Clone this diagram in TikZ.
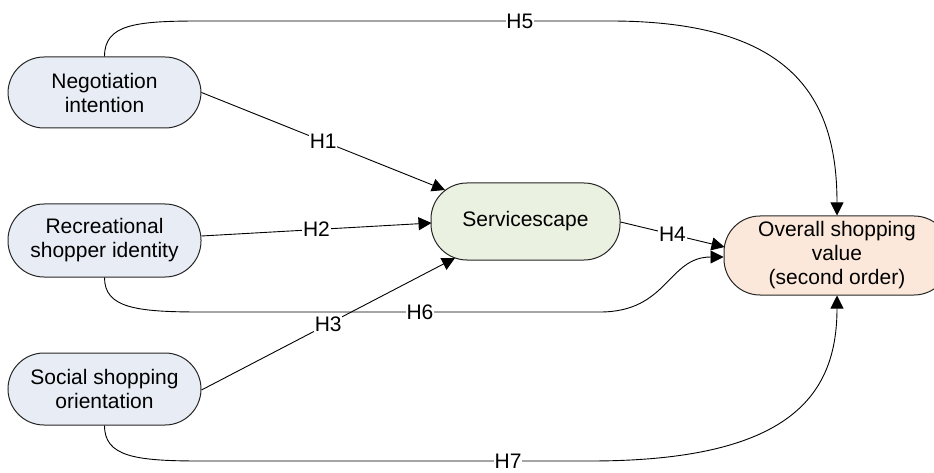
\documentclass[tikz,border=0pt]{standalone}
\usepackage{fontspec}
\setmainfont{Liberation Sans}
\usetikzlibrary{arrows.meta,calc}
\definecolor{blueF}{HTML}{E8ECF4}
\definecolor{greenF}{HTML}{EAF1E0}
\definecolor{orangeF}{HTML}{FCE8DA}
\begin{document}
\begin{tikzpicture}[x=1pt,y=-1pt,
  box/.style={draw=black!85, line width=1pt, rounded corners=36pt, align=center,
    font=\fontsize{21}{24}\selectfont, inner sep=0pt},
  conn/.style={draw=black, line width=0.9pt, -{Triangle[length=13pt,width=13pt]}},
  lbl/.style={fill=white, inner sep=0.8pt, font=\fontsize{21}{24}\selectfont}]
\useasboundingbox (0,0) rectangle (934,473);

\node[box, fill=blueF, minimum width=193pt, minimum height=71pt] (neg) at (104.5,92.5) {Negotiation\\intention};
\node[box, fill=blueF, minimum width=193pt, minimum height=73pt] (rec) at (104.5,240.5) {Recreational\\shopper identity};
\node[box, fill=blueF, minimum width=193pt, minimum height=72pt] (soc) at (104.5,389) {Social shopping\\orientation};
\node[box, fill=greenF, minimum width=189pt, minimum height=77pt] (svc) at (525.5,221.5) {Servicescape};
\node[box, fill=orangeF, minimum width=226pt, minimum height=79pt] (ovr) at (837,255.5) {Overall shopping\\value\\(second order)};

% end points on the rounded borders
\coordinate (h1e) at ($(svc.center)+(-80.5,-31.5)$);
\coordinate (h2s) at ($(rec.east)+(0,-4.5)$);
\coordinate (h2e) at ($(svc.west)+(1,1.5)$);
\coordinate (h3s) at ($(soc.east)+(0,1)$);
\coordinate (h3e) at ($(svc.center)+(-70.5,36.5)$);
\coordinate (h4s) at ($(svc.east)+(0,0.5)$);
\coordinate (h4e) at ($(ovr.west)+(1,-8.5)$);
\coordinate (h6e) at ($(ovr.west)+(0,1.5)$);

% H5
\draw[conn] (neg.north) .. controls ($(neg.north)+(0,-32)$) and (135,21) .. (200,21)
  -- node[lbl, pos=0.78] {H5} (610,21) .. controls (790,21) and ($(ovr.north)+(0,-120)$) .. (ovr.north);
% H6
\draw[conn] (rec.south) .. controls ($(rec.south)+(0,30)$) and (135,312) .. (200,312)
  -- node[lbl, pos=0.55] {H6} (600,312) .. controls (668,312) and (668,257) .. (h6e);
% H7
\draw[conn] (soc.south) .. controls ($(soc.south)+(0,31)$) and (135,461) .. (200,461)
  -- node[lbl, pos=0.79] {H7} (590,461) .. controls (790,461) and ($(ovr.south)+(0,100)$) .. (ovr.south);
% H1-H4
\draw[conn] (neg.east) -- node[lbl] {H1} (h1e);
\draw[conn] (h2s) -- node[lbl] {H2} (h2e);
\draw[conn] (h3s) -- node[lbl] {H3} (h3e);
\draw[conn] (h4s) -- node[lbl] {H4} (h4e);
\end{tikzpicture}
\end{document}
